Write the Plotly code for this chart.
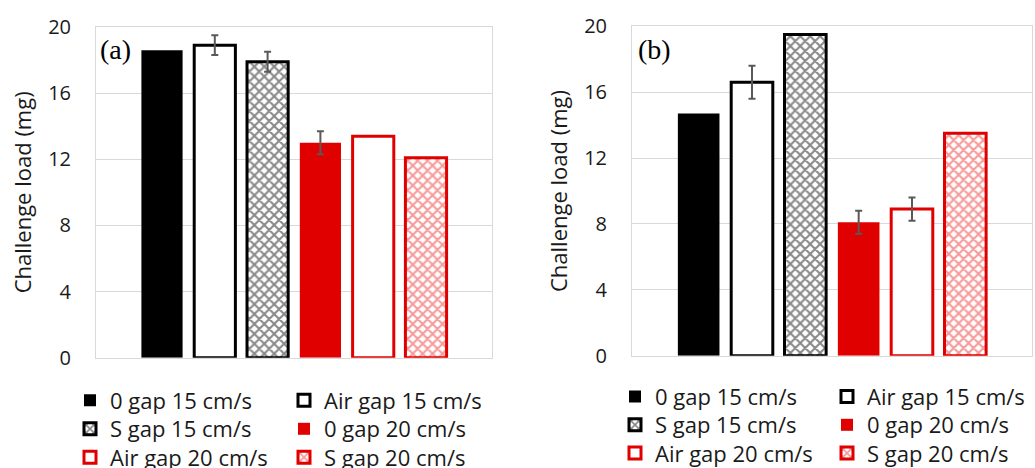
import plotly.graph_objects as go

# ---------------- data ----------------
series = ["0 gap 15 cm/s", "Air gap 15 cm/s", "S gap 15 cm/s",
          "0 gap 20 cm/s", "Air gap 20 cm/s", "S gap 20 cm/s"]
load_a = [18.6, 18.9, 17.9, 13.0, 13.4, 12.1]
err_a = [None, 0.6, 0.6, 0.7, None, None]
load_b = [14.7, 16.6, 19.5, 8.1, 8.9, 13.5]
err_b = [None, 1.0, None, 0.7, 0.7, None]
y_ticks = [0, 4, 8, 12, 16, 20]
panel_labels = ["(a)", "(b)"]
y_title = "Challenge load (mg)"

# ---------------- styles ----------------
RED = "#E00000"
styles = [
    dict(color="black", line="black", lw=0, pattern=None),
    dict(color="white", line="black", lw=3, pattern=None),
    dict(color="white", line="black", lw=3, pattern=dict(shape="x", fgcolor="#111111", bgcolor="white", size=7, solidity=0.5)),
    dict(color=RED, line=RED, lw=0, pattern=None),
    dict(color="white", line=RED, lw=3, pattern=None),
    dict(color="white", line=RED, lw=3, pattern=dict(shape="x", fgcolor="#EE3333", bgcolor="white", size=7, solidity=0.5)),
]

W, H = 1035, 468

def px_x(v):
    return v / W

def px_y(v):
    return 1 - v / H

fig = go.Figure()

panels = [
    dict(vals=load_a, errs=err_a, xa="x", ya="y", legs=["legend", "legend2", "legend3"], tag="a"),
    dict(vals=load_b, errs=err_b, xa="x2", ya="y2", legs=["legend4", "legend5", "legend6"], tag="b"),
]

for p in panels:
    for i, name in enumerate(series):
        st = styles[i]
        marker = dict(color=st["color"], line=dict(color=st["line"], width=st["lw"]))
        if st["pattern"] is not None:
            marker["pattern"] = st["pattern"]
        e = p["errs"][i]
        ey = dict(type="data", array=[e], color="#595959", thickness=2, width=3.5, visible=e is not None)
        fig.add_trace(go.Bar(
            x=[name], y=[p["vals"][i]], name=name, marker=marker, error_y=ey,
            xaxis=p["xa"], yaxis=p["ya"], legend=p["legs"][i // 2],
            showlegend=True,
        ))

grid = "#D9D9D9"
font_main = "Open Sans"
txt = "#1a1a1a"
yaxis_common = dict(
    range=[0, 20], tickvals=y_ticks, showgrid=True, gridcolor=grid, gridwidth=1,
    showline=True, linecolor=grid, linewidth=1, mirror=True, zeroline=False,
    tickfont=dict(family=font_main, size=20, color=txt), ticks="",
    ticklabelstandoff=20,
    title=dict(text=y_title, font=dict(family=font_main, size=22, color=txt), standoff=10),
)
xaxis_common = dict(
    type="category", categoryorder="array", categoryarray=series,
    range=[-1.25, 6.25], showticklabels=False, ticks="", showgrid=False,
    showline=True, linecolor=grid, linewidth=1, mirror=True, zeroline=False,
)

leg_common = dict(orientation="h", xanchor="left", yanchor="middle", traceorder="normal",
                  font=dict(family=font_main, size=22, color=txt),
                  bgcolor="rgba(0,0,0,0)", itemclick=False, itemdoubleclick=False)

rows_a = [400.5, 429, 457.5]
rows_b = [396.7, 425, 453.3]
legends = {}
for k, yy in enumerate(rows_a):
    legends["legend" if k == 0 else f"legend{k + 1}"] = dict(x=px_x(70), y=px_y(yy), entrywidth=169, **leg_common)
for k, yy in enumerate(rows_b):
    legends[f"legend{k + 4}"] = dict(x=px_x(615), y=px_y(yy), entrywidth=167, **leg_common)

fig.update_layout(
    width=W, height=H, margin=dict(l=0, r=0, t=0, b=0, autoexpand=False),
    paper_bgcolor="white", plot_bgcolor="white",
    barmode="overlay", bargap=0.22,
    xaxis=dict(domain=[px_x(96), px_x(492)], anchor="y", **xaxis_common),
    yaxis=dict(domain=[px_y(357.7), px_y(27)], anchor="x", **yaxis_common),
    xaxis2=dict(domain=[px_x(632), px_x(1032)], anchor="y2", **xaxis_common),
    yaxis2=dict(domain=[px_y(355.7), px_y(26.3)], anchor="x2", **yaxis_common),
    annotations=[
        dict(text=panel_labels[0], x=px_x(98), y=px_y(49.5), xref="paper", yref="paper",
             xanchor="left", yanchor="middle", showarrow=False,
             font=dict(family="Liberation Serif", size=28, color="black")),
        dict(text=panel_labels[1], x=px_x(636), y=px_y(49.5), xref="paper", yref="paper",
             xanchor="left", yanchor="middle", showarrow=False,
             font=dict(family="Liberation Serif", size=28, color="black")),
    ],
    **legends,
)

fig.write_html("out.html", config={"displayModeBar": False},
               post_script="document.body.style.margin='0';document.body.style.overflow='hidden';")
